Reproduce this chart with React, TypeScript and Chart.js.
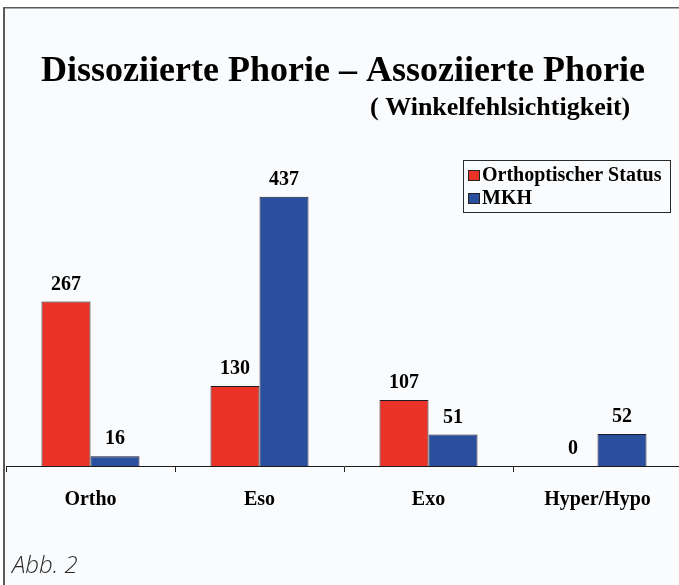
import React, { useEffect, useRef } from "react";
import { Chart, registerables } from "chart.js";

Chart.register(...registerables);

const categories = ["Ortho", "Eso", "Exo", "Hyper/Hypo"];
const orthoptischerStatus = [267, 130, 107, 0];
const mkh = [16, 437, 51, 52];
const seriesLabels = ["Orthoptischer Status", "MKH"];
const seriesColors = ["#ea3326", "#2b4f9f"];
const titleText = "Dissoziierte Phorie – Assoziierte Phorie";
const subtitleText = "( Winkelfehlsichtigkeit)";
const captionText = "Abb. 2";
const yMax = 500;

const SERIF = "'Liberation Serif', 'Times New Roman', serif";

const decorPlugin = {
  id: "decor",
  beforeDraw(chart: any) {
    const ctx = chart.ctx;
    ctx.save();
    ctx.fillStyle = "#ffffff";
    ctx.fillRect(0, 0, chart.width, chart.height);
    ctx.fillStyle = "#fafbfd";
    ctx.fillRect(4, 8, chart.width, chart.height);
    ctx.fillStyle = "#5a5a5a";
    ctx.fillRect(3, 7, 2, chart.height);
    ctx.fillRect(3, 7, chart.width, 1.5);
    ctx.restore();
  },
  afterDraw(chart: any) {
    const ctx = chart.ctx;
    ctx.save();
    ctx.fillStyle = "#000000";
    ctx.textBaseline = "alphabetic";
    ctx.font = `bold 36px ${SERIF}`;
    ctx.textAlign = "center";
    ctx.fillText(titleText, 343, 81);
    ctx.font = `bold 26px ${SERIF}`;
    ctx.textAlign = "left";
    ctx.fillText(subtitleText, 370, 115);

    // legend
    ctx.strokeStyle = "#2a2a2a";
    ctx.lineWidth = 1;
    ctx.strokeRect(463.5, 160.5, 207, 52);
    ctx.font = `bold 20px ${SERIF}`;
    chart.data.datasets.forEach((ds: any, i: number) => {
      const y = 170 + i * 23;
      ctx.fillStyle = ds.backgroundColor;
      ctx.fillRect(468, y, 12, 11);
      ctx.strokeStyle = "#222";
      ctx.strokeRect(468.5, y + 0.5, 11, 10);
      ctx.fillStyle = "#000";
      ctx.fillText(ds.label, 482, y + 11);
    });

    // caption
    ctx.fillStyle = "#2a2a2a";
    ctx.font = `italic 300 24px 'Open Sans', sans-serif`;
    ctx.fillText(captionText, 12, 573);
    ctx.restore();
  },
  afterDatasetsDraw(chart: any) {
    const ctx = chart.ctx;
    ctx.save();
    ctx.fillStyle = "#000";
    ctx.font = `bold 20px ${SERIF}`;
    ctx.textAlign = "center";
    ctx.textBaseline = "alphabetic";
    chart.data.datasets.forEach((ds: any, i: number) => {
      const meta = chart.getDatasetMeta(i);
      meta.data.forEach((el: any, j: number) => {
        ctx.fillText(String(ds.data[j]), el.x, el.y - 12);
      });
    });
    ctx.restore();
  },
};

export default function App() {
  const ref = useRef<HTMLCanvasElement | null>(null);
  useEffect(() => {
    if (!ref.current) return;
    const chart = new Chart(ref.current, {
      type: "bar",
      data: {
        labels: categories,
        datasets: [
          {
            label: seriesLabels[0],
            data: orthoptischerStatus,
            backgroundColor: seriesColors[0],
            borderColor: "#1c1c28",
            borderWidth: 1,
            categoryPercentage: 0.58,
            barPercentage: 1,
          },
          {
            label: seriesLabels[1],
            data: mkh,
            backgroundColor: seriesColors[1],
            borderColor: "#1c1c28",
            borderWidth: 1,
            categoryPercentage: 0.58,
            barPercentage: 1,
          },
        ],
      },
      options: {
        responsive: false,
        animation: false,
        devicePixelRatio: 1,
        layout: { padding: { left: 6, right: 2, top: 158, bottom: 0 } },
        plugins: {
          legend: { display: false },
          title: { display: false },
          tooltip: { enabled: false },
        },
        scales: {
          y: { display: false, min: 0, max: yMax },
          x: {
            afterFit: (scale: any) => {
              scale.height = 119;
            },
            grid: {
              display: true,
              drawOnChartArea: false,
              drawTicks: true,
              tickLength: 6,
              color: "#222",
              offset: true,
            },
            border: { display: true, color: "#1a1a1a", width: 1 },
            ticks: {
              color: "#000",
              padding: 16,
              font: { family: SERIF, size: 20, weight: "bold" },
            },
          },
        },
      },
      plugins: [decorPlugin],
    });
    return () => chart.destroy();
  }, []);
  return (
    <div
      style={{
        position: "fixed",
        left: 0,
        top: 0,
        width: 679,
        height: 585,
        overflow: "hidden",
      }}
    >
      <canvas ref={ref} width={684} height={585} style={{ display: "block" }} />
    </div>
  );
}
